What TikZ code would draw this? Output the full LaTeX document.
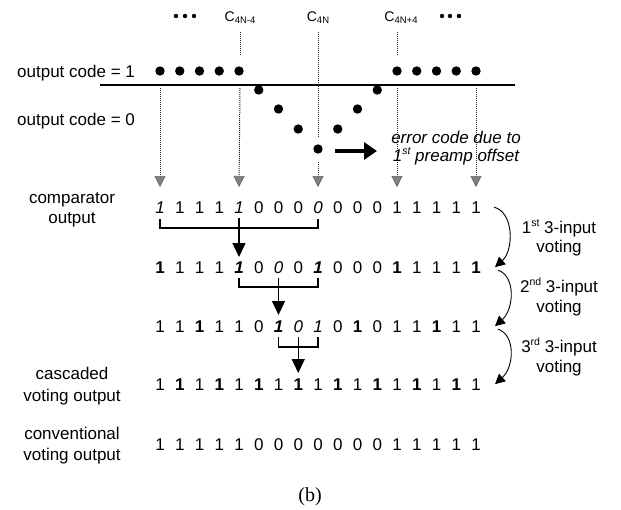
\documentclass[tikz,border=0pt]{standalone}
\usepackage{fontspec}
\setmainfont{Liberation Sans}
\newfontfamily\capserif{Liberation Serif}
\usetikzlibrary{arrows.meta}
\newcommand\lblfont{\fontsize{17}{20}\selectfont}
\newcommand\sups[1]{\raisebox{7pt}{\fontsize{10.5}{11}\selectfont #1}}
\newcommand\csub[1]{C\raisebox{-2pt}{\fontsize{9.5}{10}\selectfont #1}}
\tikzset{
  lbl/.style={font=\lblfont, inner sep=0pt, anchor=base},
  clbl/.style={font=\fontsize{14}{15}\selectfont, inner sep=0pt, anchor=base},
  digit/.style={inner sep=0pt, anchor=base},
  dgn/.style={font=\lblfont},
  dgi/.style={font=\lblfont\itshape},
  dgb/.style={font=\lblfont\bfseries},
  dgx/.style={font=\lblfont\bfseries\itshape},
  bigdot/.style={circle, fill=black, inner sep=0pt, minimum size=9.4pt},
  smalldot/.style={circle, fill=black, inner sep=0pt, minimum size=4.4pt},
  guide/.style={densely dotted, line width=1pt, black!85},
  guidetip/.style={guide, -{Triangle[length=11pt,width=11pt,fill=black!50,color=black!60,line width=0.6pt]}},
  brk/.style={line width=1.4pt},
  brkarrow/.style={line width=1.4pt, -{Triangle[length=14pt,width=13pt]}},
  vote/.style={line width=0.9pt, -{Triangle[length=10pt,width=10pt]}},
  thickarrow/.style={line width=4pt, -{Triangle[length=13pt,width=17pt]}},
}
\begin{document}
\begin{tikzpicture}[x=1pt,y=-1pt]
\useasboundingbox (0,0) rectangle (621,509);

% ---- code transition: comparator levels above/below threshold ----
\draw[line width=1.4pt] (100,85) coordinate (thl) -- (515,85) coordinate (thr);
\foreach \i/\yy in {0/71,1/71,2/71,3/71,4/71,5/90,6/109,7/129,8/149,9/129,10/109,11/90,12/71,13/71,14/71,15/71,16/71}
  \node[bigdot] (d\i) at ({160+19.75*\i},\yy) {};

\foreach \xx [count=\k] in {176,185,194}
  \node[smalldot] (el\k) at (\xx,16) {};
\foreach \xx [count=\k] in {442,450,459}
  \node[smalldot] (er\k) at (\xx,16) {};

\node[clbl] (cm4) at (240,21) {\csub{4N-4}};
\node[clbl] (c0) at (318,21) {\csub{4N}};
\node[clbl] (cp4) at (401,21) {\csub{4N+4}};

\node[lbl, anchor=base west] (oc1) at (17,77) {output code = 1};
\node[lbl, anchor=base west] (oc0) at (17,125) {output code = 0};

% ---- dotted guides down to the comparator outputs ----
\foreach \c in {0,4,8,12,16}
  \coordinate (tip\c) at ({160+19.75*\c},187);
\coordinate (g4a) at (240,32);  \coordinate (g4b) at (240,55);  \coordinate (g4c) at (240,88);
\coordinate (g8a) at (318,32);  \coordinate (g8b) at (318,137); \coordinate (g8c) at (318,162);
\coordinate (g12a) at (397,32); \coordinate (g12b) at (397,55); \coordinate (g12c) at (397,88);
\coordinate (g0c) at (160,88);  \coordinate (g16c) at (476,88);
\draw[guide] (g4a) -- (g4b);
\draw[guide] (g8a) -- (g8b);
\draw[guide] (g12a) -- (g12b);
\draw[guidetip] (g0c) -- (tip0);
\draw[guidetip] (g4c) -- (tip4);
\draw[guidetip] (g8c) -- (tip8);
\draw[guidetip] (g12c) -- (tip12);
\draw[guidetip] (g16c) -- (tip16);

% ---- error annotation ----
\coordinate (ea) at (335,151);
\coordinate (eb) at (377,151);
\draw[thickarrow] (ea) -- (eb);
\node[lbl, font=\lblfont\itshape] (err1) at (456,143) {error code due to};
\node[lbl, font=\lblfont\itshape] (err2) at (456,161) {1\sups{st} preamp offset};

% ---- bit rows ----
\foreach \v/\s [count=\i from 0] in {1/i,1/n,1/n,1/n,1/i,0/n,0/n,0/n,0/i,0/n,0/n,0/n,1/n,1/n,1/n,1/n,1/n}
  \node[digit,dg\s] (ra\i) at ({160+19.75*\i},213) {\v};
\foreach \v/\s [count=\i from 0] in {1/b,1/n,1/n,1/n,1/x,0/n,0/i,0/n,1/x,0/n,0/n,0/n,1/b,1/n,1/n,1/n,1/b}
  \node[digit,dg\s] (rb\i) at ({160+19.75*\i},273) {\v};
\foreach \v/\s [count=\i from 0] in {1/n,1/n,1/b,1/n,1/n,0/n,1/x,0/i,1/i,0/n,1/b,0/n,1/n,1/n,1/b,1/n,1/n}
  \node[digit,dg\s] (rc\i) at ({160+19.75*\i},332) {\v};
\foreach \v/\s [count=\i from 0] in {1/n,1/b,1/n,1/b,1/n,1/b,1/n,1/b,1/n,1/b,1/n,1/b,1/n,1/b,1/n,1/b,1/n}
  \node[digit,dg\s] (rd\i) at ({160+19.75*\i},390) {\v};
\foreach \v [count=\i from 0] in {1,1,1,1,1,0,0,0,0,0,0,0,1,1,1,1,1}
  \node[digit,dgn] (re\i) at ({160+19.75*\i},450) {\v};

% ---- row labels ----
\node[lbl] (cmpa) at (72,203) {comparator};
\node[lbl] (cmpb) at (72,223) {output};
\node[lbl] (casa) at (72,379) {cascaded};
\node[lbl] (casb) at (72,401) {voting output};
\node[lbl] (cona) at (72,439) {conventional};
\node[lbl] (conb) at (72,460) {voting output};

% ---- voting brackets ----
\draw[brk] ([yshift=-6pt]ra0.base) -- ++(0,9) -| ([yshift=-6pt]ra8.base);
\draw[brkarrow] ([yshift=-5pt]ra4.base) -- ([yshift=16pt]rb4.base);
\draw[brk] ([yshift=-5pt]rb4.base) -- ++(0,9) -| ([yshift=-5pt]rb8.base);
\draw[brkarrow] ([yshift=-5pt]rb6.base) -- ([yshift=17pt]rc6.base);
\draw[brk] ([yshift=-5pt]rc6.base) -- ++(0,10) -| ([yshift=-5pt]rc8.base);
\draw[brkarrow] ([yshift=-5pt]rc7.base) -- ([yshift=17pt]rd7.base);

% ---- voting stages ----
\draw[vote] ([xshift=18pt]ra16.center) .. controls +(20,5) and +(19,-17) .. ([xshift=19pt]rb16.center);
\draw[vote] ([xshift=22pt,yshift=-3pt]rb16.center) .. controls +(18,6) and +(19,-17) .. ([xshift=19pt]rc16.center);
\draw[vote] ([xshift=22pt,yshift=-3pt]rc16.center) .. controls +(18,6) and +(19,-17) .. ([xshift=19pt]rd16.center);

\node[lbl] (v1a) at (559,233) {1\sups{st} 3-input};
\node[lbl] (v1b) at (559,252) {voting};
\node[lbl] (v2a) at (559,292) {2\sups{nd} 3-input};
\node[lbl] (v2b) at (559,312) {voting};
\node[lbl] (v3a) at (559,352) {3\sups{rd} 3-input};
\node[lbl] (v3b) at (559,372) {voting};

\node[inner sep=0pt, anchor=base, font=\capserif\fontsize{20}{22}\selectfont] (cap) at (310,501) {(b)};
\end{tikzpicture}
\end{document}
